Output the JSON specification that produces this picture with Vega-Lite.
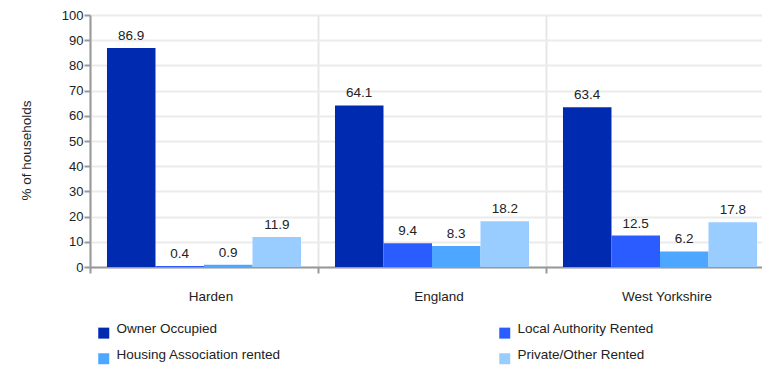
{
  "$schema": "https://vega.github.io/schema/vega-lite/v6.json",
  "width": 672,
  "height": 252,
  "autosize": {"type": "none"},
  "padding": {"left": 90, "top": 15, "right": 0, "bottom": 99},
  "config": {
    "font": "Liberation Sans",
    "view": {"stroke": null},
    "axis": {"labelColor": "#222222", "titleColor": "#222222"}
  },
  "data": {
    "values": [
      {"area": "Harden", "tenure": "Owner Occupied", "pct": 86.9},
      {"area": "Harden", "tenure": "Local Authority Rented", "pct": 0.4},
      {"area": "Harden", "tenure": "Housing Association rented", "pct": 0.9},
      {"area": "Harden", "tenure": "Private/Other Rented", "pct": 11.9},
      {"area": "England", "tenure": "Owner Occupied", "pct": 64.1},
      {"area": "England", "tenure": "Local Authority Rented", "pct": 9.4},
      {"area": "England", "tenure": "Housing Association rented", "pct": 8.3},
      {"area": "England", "tenure": "Private/Other Rented", "pct": 18.2},
      {"area": "West Yorkshire", "tenure": "Owner Occupied", "pct": 63.4},
      {"area": "West Yorkshire", "tenure": "Local Authority Rented", "pct": 12.5},
      {"area": "West Yorkshire", "tenure": "Housing Association rented", "pct": 6.2},
      {"area": "West Yorkshire", "tenure": "Private/Other Rented", "pct": 17.8}
    ]
  },
  "encoding": {
    "x": {
      "field": "area",
      "type": "nominal",
      "sort": ["Harden", "England", "West Yorkshire"],
      "scale": {"range": [0, 684], "paddingInner": 0, "paddingOuter": 0},
      "axis": {
        "title": null,
        "bandPosition": 0,
        "grid": true,
        "gridColor": "#e6e6e6",
        "gridWidth": 2,
        "domainColor": "#999999",
        "domainWidth": 2,
        "tickColor": "#999999",
        "tickWidth": 2,
        "tickSize": 6,
        "labelAngle": 0,
        "labelFontSize": 13.5,
        "labelPadding": 16,
        "labelOffset": 7,
        "labelAlign": "center"
      }
    },
    "xOffset": {
      "field": "tenure",
      "type": "nominal",
      "sort": ["Owner Occupied", "Local Authority Rented", "Housing Association rented", "Private/Other Rented"],
      "scale": {"paddingInner": 0, "paddingOuter": 0.35}
    },
    "y": {
      "field": "pct",
      "type": "quantitative",
      "scale": {"domain": [0, 100]},
      "axis": {
        "title": "% of households",
        "titleFontSize": 13.5,
        "titleFontWeight": "normal",
        "titlePadding": 28,
        "titleY": 135,
        "values": [0, 10, 20, 30, 40, 50, 60, 70, 80, 90, 100],
        "grid": true,
        "gridColor": "#ebebeb",
        "gridWidth": 2,
        "domainColor": "#999999",
        "domainWidth": 2,
        "tickColor": "#999999",
        "tickWidth": 2,
        "tickSize": 6,
        "labelFontSize": 13,
        "labelPadding": 1
      }
    }
  },
  "layer": [
    {
      "mark": {"type": "bar"},
      "encoding": {
        "color": {
          "field": "tenure",
          "type": "nominal",
          "sort": ["Owner Occupied", "Local Authority Rented", "Housing Association rented", "Private/Other Rented"],
          "scale": {
            "domain": ["Owner Occupied", "Local Authority Rented", "Housing Association rented", "Private/Other Rented"],
            "range": ["#002bb0", "#2b5cff", "#4da6ff", "#99ccff"]
          },
          "legend": {
            "title": null,
            "orient": "none",
            "legendX": 7,
            "legendY": 311,
            "direction": "horizontal",
            "columns": 2,
            "columnPadding": 217,
            "rowPadding": 8,
            "padding": 0,
            "symbolType": "square",
            "symbolSize": 121,
            "symbolStrokeWidth": 0,
            "labelFontSize": 13.5,
            "labelColor": "#222222",
            "labelOffset": 6,
            "labelBaseline": "alphabetic",
            "labelLimit": 400
          }
        }
      }
    },
    {
      "mark": {"type": "text", "baseline": "alphabetic", "dy": -8, "fontSize": 13.5, "color": "#222222"},
      "encoding": {
        "text": {"field": "pct", "type": "quantitative", "format": ".1f"}
      }
    }
  ]
}
